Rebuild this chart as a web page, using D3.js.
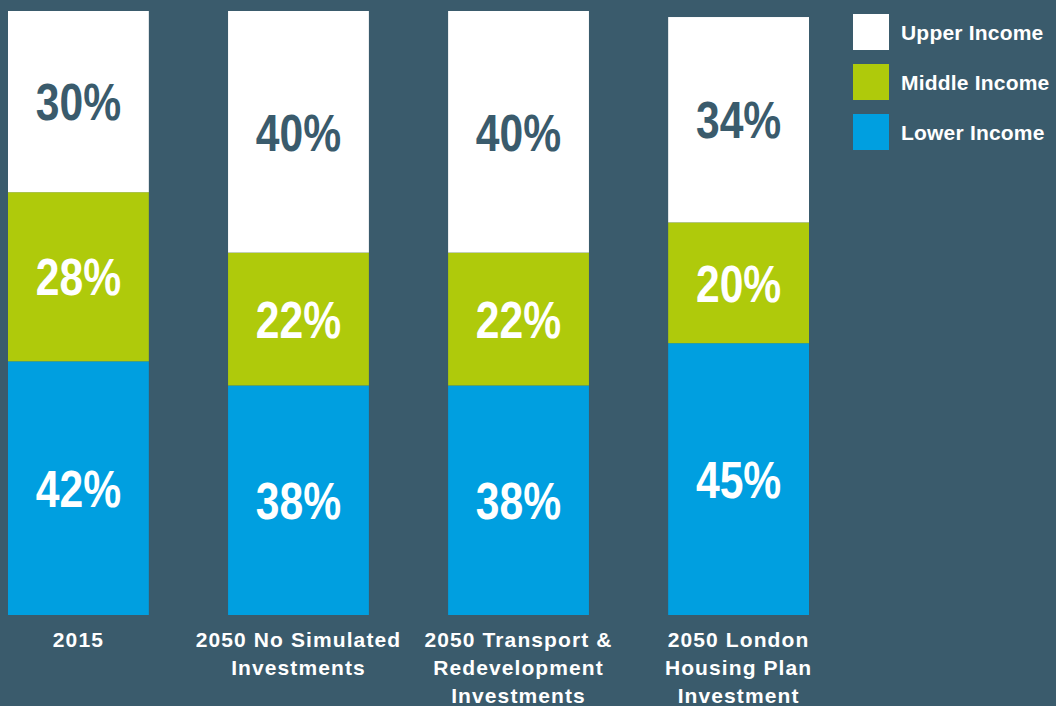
<!DOCTYPE html>
<html>
<head>
<meta charset="utf-8">
<script src="https://cdn.jsdelivr.net/npm/d3@7"></script>
<style>
  html, body { margin: 0; padding: 0; background: #3a5b6c; }
  svg { display: block; }
</style>
</head>
<body>
<svg id="chart" width="1056" height="706"></svg>
<script>
const categories = [
  ["2015"],
  ["2050 No Simulated", "Investments"],
  ["2050 Transport &", "Redevelopment", "Investments"],
  ["2050 London", "Housing Plan", "Investment"]
];
const seriesNames = ["Lower Income", "Middle Income", "Upper Income"];
const lowerIncome = [42, 38, 38, 45];
const middleIncome = [28, 22, 22, 20];
const upperIncome = [30, 40, 40, 34];
const legendOrder = ["Upper Income", "Middle Income", "Lower Income"];

const colors = { "Lower Income": "#009fe0", "Middle Income": "#afca0b", "Upper Income": "#ffffff" };
const labelColors = { "Lower Income": "#ffffff", "Middle Income": "#ffffff", "Upper Income": "#3a5b6c" };

const catKeys = categories.map(c => c.join(" "));
const table = catKeys.map((k, i) => ({
  key: k,
  "Lower Income": lowerIncome[i],
  "Middle Income": middleIncome[i],
  "Upper Income": upperIncome[i]
}));

const svg = d3.select("#chart");
svg.append("rect").attr("width", 1056).attr("height", 706).attr("fill", "#3a5b6c");

const x = d3.scaleBand().domain(catKeys).range([8, 809]).paddingInner(0.36).paddingOuter(0);
const y = d3.scaleLinear().domain([0, 100]).range([615, 11]);

const stack = d3.stack().keys(seriesNames)(table);

const groups = svg.selectAll("g.series").data(stack).join("g").attr("class", "series");
groups.selectAll("rect").data(s => s.map(d => ({ series: s.key, d }))).join("rect")
  .attr("x", o => x(o.d.data.key))
  .attr("width", x.bandwidth())
  .attr("y", o => y(o.d[1]))
  .attr("height", o => y(o.d[0]) - y(o.d[1]))
  .attr("fill", o => colors[o.series]);

groups.selectAll("text").data(s => s.map(d => ({ series: s.key, d }))).join("text")
  .attr("transform", o => `translate(${x(o.d.data.key) + x.bandwidth() / 2},${(y(o.d[0]) + y(o.d[1])) / 2}) scale(0.82,1)`)
  .attr("dy", "0.36em")
  .attr("text-anchor", "middle")
  .attr("font-family", "'Liberation Sans', Arial, sans-serif")
  .attr("font-weight", "bold")
  .attr("font-size", 52)
  .attr("fill", o => labelColors[o.series])
  .text(o => (o.d[1] - o.d[0]) + "%");

// category labels
const catG = svg.append("g");
categories.forEach((lines, i) => {
  const t = catG.append("text")
    .attr("x", x(catKeys[i]) + x.bandwidth() / 2)
    .attr("y", 647)
    .attr("text-anchor", "middle")
    .attr("font-family", "'Liberation Sans', Arial, sans-serif")
    .attr("font-weight", "bold")
    .attr("font-size", 21)
    .attr("letter-spacing", "1.1px")
    .attr("fill", "#ffffff");
  lines.forEach((ln, j) => {
    t.append("tspan")
      .attr("x", x(catKeys[i]) + x.bandwidth() / 2)
      .attr("dy", j === 0 ? 0 : 28)
      .text(ln);
  });
});

// legend
const leg = svg.append("g").attr("transform", "translate(853,14)");
const li = leg.selectAll("g").data(legendOrder).join("g")
  .attr("transform", (d, i) => `translate(0,${i * 50})`);
li.append("rect").attr("width", 36).attr("height", 36).attr("fill", d => colors[d]);
li.append("text")
  .attr("x", 48).attr("y", 18).attr("dy", "0.36em")
  .attr("font-family", "'Liberation Sans', Arial, sans-serif")
  .attr("font-weight", "bold")
  .attr("font-size", 21)
  .attr("letter-spacing", "0.2px")
  .attr("fill", "#ffffff")
  .text(d => d);
</script>
</body>
</html>
